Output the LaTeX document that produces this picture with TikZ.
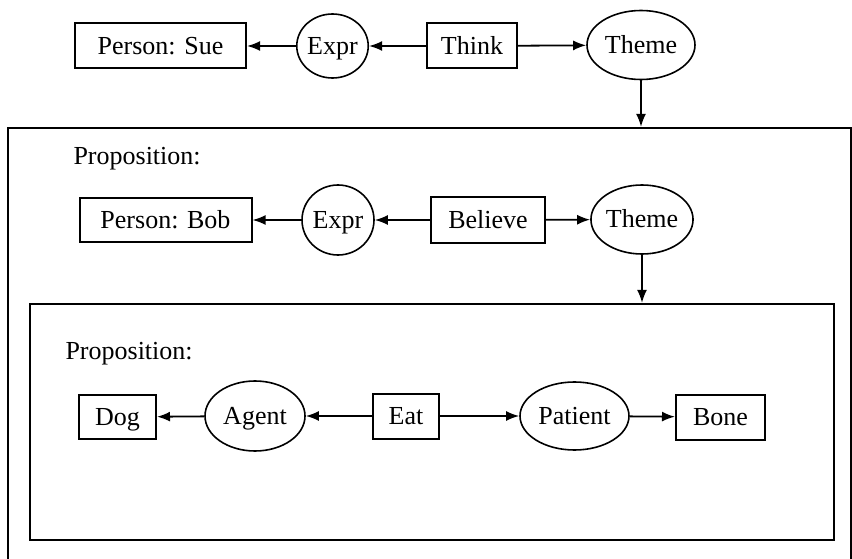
\documentclass[tikz,border=0pt]{standalone}
\usepackage{fontspec}
\setmainfont{Liberation Serif}
\usetikzlibrary{shapes.geometric,arrows.meta}
\begin{document}
\begin{tikzpicture}[x=1pt,y=-1pt,
  every node/.style={font=\fontsize{26}{30}\selectfont},
  box/.style={draw,line width=2pt,rectangle,inner sep=0pt,text height=18pt,text depth=1pt},
  oval/.style={draw,line width=1.6pt,ellipse,inner sep=0pt,text height=18pt,text depth=1pt},
  frame/.style={draw,line width=2.2pt,rectangle,inner sep=0pt},
  conn/.style={line width=1.8pt,-{Latex[length=13pt,width=10pt]}}]
\useasboundingbox (0,0) rectangle (852,559);
\clip (0,0) rectangle (852,559);
% frames
\node[frame,minimum width=843pt,minimum height=440pt] (outer) at (429.5,348) {};
\node[frame,minimum width=804pt,minimum height=236pt] (inner) at (432,422) {};
% row 1
\node[box,minimum width=171pt,minimum height=45pt] (sue) at (160.5,46) {Person: Sue};
\node[oval,minimum width=71pt,minimum height=64pt] (expr1) at (332.5,46) {Expr};
\node[box,minimum width=90pt,minimum height=45pt] (think) at (472,46) {Think};
\node[oval,minimum width=108pt,minimum height=69pt] (theme1) at (641,45) {Theme};
% row 2
\node[anchor=base west] (prop1) at (70,165) {Proposition:};
\node[box,minimum width=172pt,minimum height=43pt] (bob) at (165.5,220) {Person: Bob};
\node[oval,minimum width=72pt,minimum height=70pt] (expr2) at (338,220) {Expr};
\node[box,minimum width=114pt,minimum height=45pt] (believe) at (488,220) {Believe};
\node[oval,minimum width=100pt,minimum height=69pt] (theme2) at (642,219.5) {Theme};
% row 3
\node[anchor=base west] (prop2) at (62,359) {Proposition:};
\node[box,minimum width=77pt,minimum height=44pt] (dog) at (117.5,417) {Dog};
\node[oval,minimum width=100pt,minimum height=70pt] (agent) at (255,416) {Agent};
\node[box,minimum width=66pt,minimum height=45pt] (eat) at (406,416) {Eat};
\node[oval,minimum width=109pt,minimum height=68pt] (patient) at (574.5,416) {Patient};
\node[box,minimum width=89pt,minimum height=45pt] (bone) at (720.5,417) {Bone};
% connectors
\draw[conn] (expr1) -- (sue);
\draw[conn] (think) -- (expr1);
\draw[conn] (think) -- (theme1);
\draw[conn] (theme1.south) -- (theme1.south |- outer.north);
\draw[conn] (expr2) -- (bob);
\draw[conn] (believe) -- (expr2);
\draw[conn] (believe) -- (theme2);
\draw[conn] (theme2.south) -- (theme2.south |- inner.north);
\draw[conn] (agent) -- (dog);
\draw[conn] (eat) -- (agent);
\draw[conn] (eat) -- (patient);
\draw[conn] (patient) -- (bone);
\end{tikzpicture}
\end{document}
